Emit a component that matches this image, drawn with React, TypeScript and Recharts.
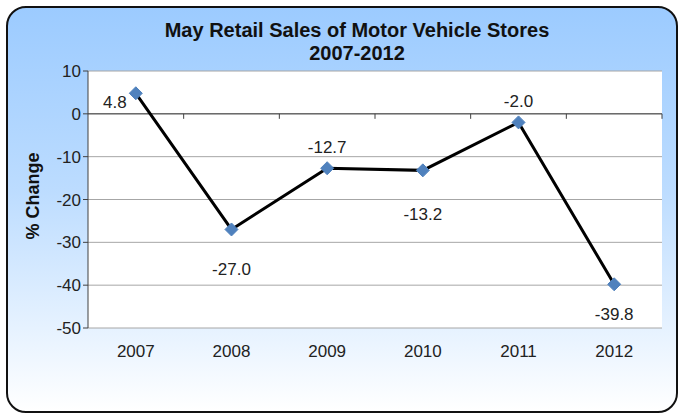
import React from 'react';
import {
  LineChart,
  Line,
  XAxis,
  YAxis,
  CartesianGrid,
  ReferenceLine,
  LabelList
} from 'recharts';

const years = ['2007', '2008', '2009', '2010', '2011', '2012'];
const pctChange = [4.8, -27.0, -12.7, -13.2, -2.0, -39.8];
const yTicks = [-50, -40, -30, -20, -10, 0, 10];

const data = years.map((year, i) => ({ year, change: pctChange[i] }));

// where each data label sits relative to its marker (as placed in the original)
const labelOffsets = [
  { dx: -21, dy: 9 },
  { dx: 0, dy: 40 },
  { dx: 0, dy: -21 },
  { dx: 0, dy: 44 },
  { dx: 0, dy: -21 },
  { dx: 0, dy: 30 }
];

const FONT = '"Liberation Sans", Arial, sans-serif';

const Diamond = (props: any) => {
  const { cx, cy } = props;
  if (cx == null || cy == null) return null;
  const r = 6.5;
  return (
    <path
      d={`M${cx},${cy - r}L${cx + r},${cy}L${cx},${cy + r}L${cx - r},${cy}Z`}
      fill="#4F81BD"
      stroke="#4F81BD"
    />
  );
};

// zero line with tick marks at the category boundaries
const ZeroAxis = (props: any) => {
  const { x1, y1, x2 } = props;
  const n = years.length;
  const step = (x2 - x1) / n;
  return (
    <g>
      <line x1={x1} y1={y1} x2={x2} y2={y1} stroke="#404040" strokeWidth={1} />
      {years.map((_, i) => (
        <line
          key={i}
          x1={x1 + step * (i + 1)}
          x2={x1 + step * (i + 1)}
          y1={y1}
          y2={y1 + 5}
          stroke="#404040"
        />
      ))}
    </g>
  );
};

const renderLabel = (props: any) => {
  const { x, y, value, index } = props;
  const off = labelOffsets[index] || { dx: 0, dy: -20 };
  return (
    <text
      x={x + off.dx}
      y={y + off.dy}
      textAnchor="middle"
      dominantBaseline="central"
      fontSize={17}
      fontFamily={FONT}
      fill="#222"
    >
      {Number(value).toFixed(1)}
    </text>
  );
};

export default function App() {
  return (
    <div style={{ position: 'absolute', left: 0, top: 0, width: 680, height: 413, overflow: 'hidden', fontFamily: FONT }}>
      <div
        style={{
          position: 'absolute',
          left: 6,
          top: 6,
          width: 668,
          height: 403,
          border: '2px solid #111',
          borderRadius: 20,
          background: 'linear-gradient(to bottom, #9CCBFF 0%, #BCDCFF 45%, #FFFFFF 100%)'
        }}
      />
      <div
        style={{
          position: 'absolute',
          left: 0,
          width: 714,
          top: 19,
          textAlign: 'center',
          fontWeight: 'bold',
          fontSize: 20,
          lineHeight: '23px',
          color: '#111'
        }}
      >
        May Retail Sales of Motor Vehicle Stores
        <br />
        2007-2012
      </div>
      <div
        style={{
          position: 'absolute',
          left: 33,
          top: 196,
          transform: 'translate(-50%, -50%) rotate(-90deg)',
          fontWeight: 'bold',
          fontSize: 18,
          whiteSpace: 'nowrap',
          color: '#111'
        }}
      >
        % Change
      </div>
      <div style={{ position: 'absolute', left: 0, top: 0 }}>
        <LineChart
          width={680}
          height={413}
          data={data}
          margin={{ top: 71, right: 18, left: 0, bottom: 55 }}
        >
          <CartesianGrid vertical={false} stroke="#A6A6A6" fill="#FFFFFF" />
          <XAxis
            dataKey="year"
            height={30}
            axisLine={false}
            tickLine={false}
            padding={{ left: 47.8, right: 47.8 }}
            tick={{ fontSize: 17, fill: '#222', fontFamily: FONT }}
            tickMargin={11}
          />
          <YAxis
            width={88}
            domain={[-50, 10]}
            ticks={yTicks}
            interval={0}
            axisLine={{ stroke: '#404040' }}
            tickLine={{ stroke: '#404040' }}
            tickSize={5}
            tick={{ fontSize: 17, fill: '#222', fontFamily: FONT }}
          />
          <ReferenceLine y={0} shape={<ZeroAxis />} />
          <Line
            type="linear"
            dataKey="change"
            stroke="#000"
            strokeWidth={3}
            dot={<Diamond />}
            activeDot={false}
            isAnimationActive={false}
          >
            <LabelList dataKey="change" content={renderLabel} />
          </Line>
        </LineChart>
      </div>
    </div>
  );
}
